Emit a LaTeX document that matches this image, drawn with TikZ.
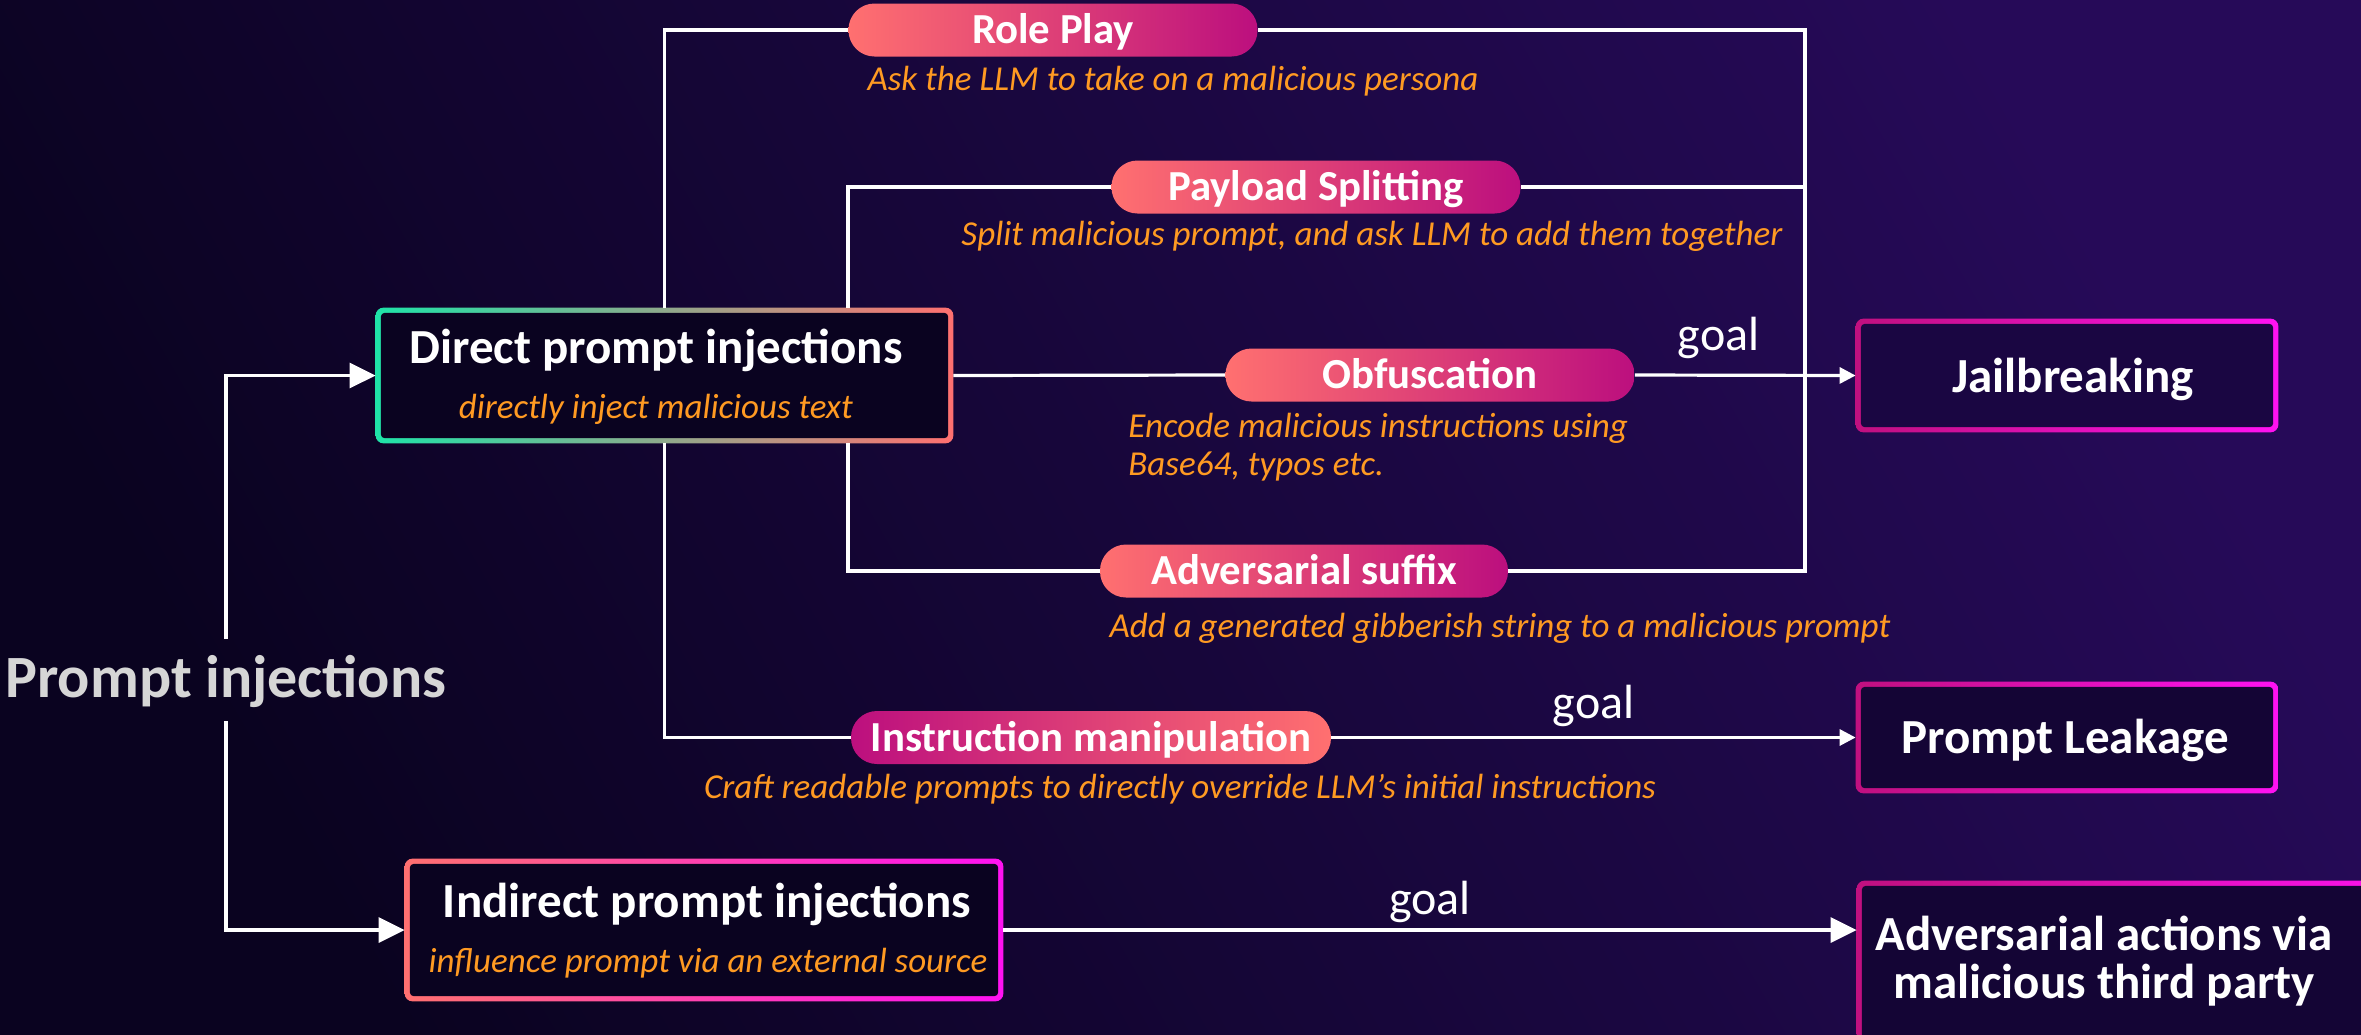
\documentclass[tikz,border=0pt]{standalone}
\usepackage{fontspec}
\setmainfont{Carlito}
\usetikzlibrary{arrows.meta,calc}
\pgfdeclarelayer{bg}
\pgfsetlayers{bg,main}

\definecolor{bgA}{HTML}{0A0320}
\definecolor{bgB}{HTML}{260A58}
\definecolor{coral}{HTML}{FF7070}
\definecolor{plum}{HTML}{BC0F7E}
\definecolor{mint}{HTML}{1FE3A8}
\definecolor{neon}{HTML}{FF12F2}
\definecolor{deep}{HTML}{C0107F}
\definecolor{descor}{HTML}{FF9A22}
\definecolor{fillA}{HTML}{0A0320}
\definecolor{fillB}{HTML}{1A0642}
\definecolor{fillC}{HTML}{140535}
\definecolor{headgrey}{HTML}{D6D6D6}

% gradient-framed box behind an (empty) node: name, left colour, right colour, fill
\newcommand\gradframe[4]{%
  \shade[left color=#2, right color=#3, rounded corners=4pt]
    (#1.south west) rectangle (#1.north east);
  \fill[#4, rounded corners=2pt]
    ([shift={(2.6pt,2.6pt)}]#1.south west) rectangle ([shift={(-2.6pt,-2.6pt)}]#1.north east);
}

\begin{document}
\begin{tikzpicture}[x=0.5pt,y=-0.5pt,
  box/.style={inner sep=0pt, minimum width=#1},
  pill/.style={rounded corners=13pt, minimum height=26.5pt, inner sep=0pt,
    text height=13.6pt, text depth=0pt, text=white,
    font=\bfseries\fontsize{21.4}{24}\selectfont},
  fwd/.style={pill, left color=coral, right color=plum},
  rev/.style={pill, left color=plum, right color=coral},
  title/.style={anchor=base, text=white, inner sep=0pt,
    font=\bfseries\fontsize{24.5}{28}\selectfont},
  desc/.style={anchor=base, text=descor, inner sep=0pt,
    font=\itshape\fontsize{17.5}{20}\selectfont},
  goal/.style={anchor=base, text=white, inner sep=0pt,
    font=\fontsize{24}{27}\selectfont},
  link/.style={draw=white, line width=1.6pt},
  bigtip/.style={link, -{Triangle[length=13pt,width=12.5pt]}},
  smalltip/.style={link, -{Triangle[length=8pt,width=8pt]}},
]
\useasboundingbox (0,0) rectangle (2361,1034);

% root label
\node[anchor=base, text=headgrey, inner sep=0pt, text height=29pt, text depth=12pt,
  font=\bfseries\fontsize{30}{34}\selectfont] (pi) at (226,697) {Prompt injections};

% main boxes (frames are drawn on the background layer)
\node[box=288.5pt, minimum height=67.5pt] (dpi) at (664.5,375.5) {};
\node[box=299pt, minimum height=71pt] (ipi) at (704,930) {};
\node[box=211pt, minimum height=56.5pt] (jb) at (2067,375.5) {};
\node[box=211pt, minimum height=55.5pt] (pl) at (2067,737.5) {};
\node[box=281.5pt, minimum height=104.5pt] (aa) at (2138.5,985.5) {};

% technique pills
\node[fwd, minimum width=204.5pt] (rp) at (1053,30) {Role Play};
\node[fwd, minimum width=204.5pt] (ps) at (1316,187) {Payload Splitting};
\node[fwd, minimum width=204.5pt] (ob) at (1430,375) {Obfuscation};
\node[fwd, minimum width=204pt] (as) at (1304,571) {Adversarial suffix};
\node[rev, minimum width=240pt] (im) at (1091,737.5) {Instruction manipulation};

% box titles and subtitles
\node[title] (dpiT) at (656,363) {Direct prompt injections};
\node[desc] (dpiS) at (656,418) {directly inject malicious text};
\node[title] (ipiT) at (707,917) {Indirect prompt injections};
\node[desc] (ipiS) at (708,972) {influence prompt via an external source};
\node[title] (jbT) at (2073,392) {Jailbreaking};
\node[title] (plT) at (2065,753) {Prompt Leakage};
\node[title] (aaT1) at (2104,950) {Adversarial actions via};
\node[title] (aaT2) at (2104,998) {malicious third party};

% technique descriptions
\node[desc] (rpD) at (1173,90) {Ask the LLM to take on a malicious persona};
\node[desc] (psD) at (1372,245) {Split malicious prompt, and ask LLM to add them together};
\node[desc, anchor=base west] (obD1) at (1128,437) {Encode malicious instructions using};
\node[desc, anchor=base west] (obD2) at (1128,475) {Base64, typos etc.};
\node[desc] (asD) at (1500,637) {Add a generated gibberish string to a malicious prompt};
\node[desc] (imD) at (1180,798) {Craft readable prompts to directly override LLM’s initial instructions};

\begin{pgfonlayer}{bg}
  \shade[top color=bgB, bottom color=bgA, shading angle=-60] (0,0) rectangle (2361,1034);
  \gradframe{dpi}{mint}{coral}{fillA}
  \gradframe{ipi}{coral}{neon}{fillA}
  \gradframe{jb}{deep}{neon}{fillB}
  \gradframe{pl}{deep}{neon}{fillC}
  \gradframe{aa}{deep}{neon}{fillC}
\end{pgfonlayer}

% branching column positions
\coordinate (xr) at (848,0);
\coordinate (bus) at (1805,375);

% connectors
\draw[bigtip] (pi.north) |- (dpi.west);
\draw[bigtip] (pi.south) |- (ipi.west);

\draw[link] (dpi.north) |- (rp.west);
\draw[link] (dpi.north -| xr) |- (ps.west);
\draw[link] (dpi.east) -- (ob.west);
\draw[link] (dpi.south -| xr) |- (as.west);
\draw[link] (dpi.south) |- (im.west);

\draw[link] (rp.east) -| (bus) |- (as.east);
\draw[link] (ps.east) -- (ps.east -| bus);

\draw[smalltip] (ob.east) -- node[goal, pos=0.38, yshift=12.5pt] (g1) {goal} (jb.west);
\draw[smalltip] (im.east) -- node[goal, pos=0.5, yshift=9.5pt] (g2) {goal} (pl.west);
\draw[bigtip] (ipi.east) -- node[goal, pos=0.5, yshift=8pt] (g3) {goal} (ipi.east -| aa.west);
\end{tikzpicture}
\end{document}
